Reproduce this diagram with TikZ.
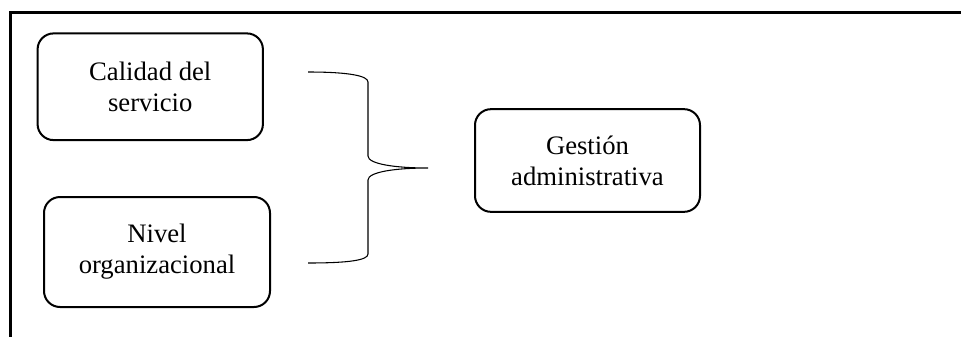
\documentclass[tikz,border=0pt]{standalone}
\usepackage{fontspec}
\setmainfont{Liberation Serif}
\tikzset{
  factor/.style={draw,line width=1.5pt,rounded corners=12pt,align=center,
    inner sep=0pt,outer sep=0pt,font=\fontsize{20}{23.25}\selectfont},
}
\begin{document}
\begin{tikzpicture}[x=0.75pt,y=-0.75pt]
\useasboundingbox (0,0) rectangle (961,336);
\clip (0,0) rectangle (961,336);
% Frame
\draw[line width=1.6pt] (10.5,12.5) rectangle (990,360);

% Factors
\node[factor,minimum width=169pt,minimum height=80pt] (calidad) at (150.25,86.75) {Calidad del\\servicio};
\node[factor,minimum width=169.5pt,minimum height=82.5pt] (nivel) at (157,252) {Nivel\\organizacional};

% Result
\node[factor,minimum width=168.75pt,minimum height=77pt] (gestion) at (587.5,160.5) {Gesti\'on\\administrativa};

% Brace
\coordinate (tip) at (428,168);
\draw[line width=0.8pt] (308,72) .. controls (350,72) and (368,76) .. (368,82)
  -- (368,156) .. controls (368,164) and (395,168) .. (tip)
  .. controls (395,168) and (368,172) .. (368,180)
  -- (368,254) .. controls (368,260) and (350,263) .. (308,263);
\end{tikzpicture}
\end{document}
